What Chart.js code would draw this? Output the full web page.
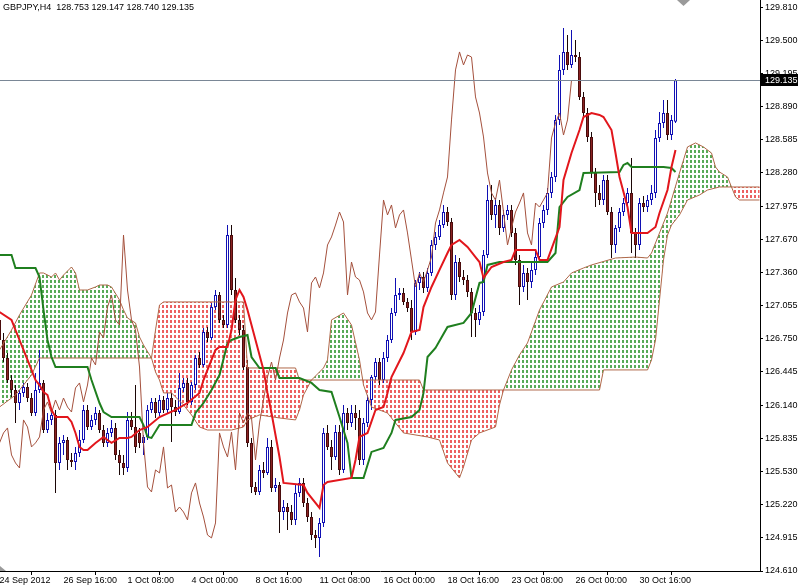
<!DOCTYPE html>
<html><head><meta charset="utf-8">
<script src="https://cdn.jsdelivr.net/npm/chart.js@4.4.0/dist/chart.umd.min.js"></script>
<style>html,body{margin:0;padding:0;background:#fff;overflow:hidden}#wrap{width:798px;height:588px}</style>
</head><body><div id="wrap"><canvas id="c" width="798" height="588"></canvas></div>
<script>
const _ = null;
const symbolTitle = 'GBPJPY,H4';
const xTickBars = [0,16,32,48,64,80,96,112,128,144,160];
const xTickLabels = ['24 Sep 2012','26 Sep 16:00','1 Oct 08:00','4 Oct 00:00','8 Oct 16:00','11 Oct 08:00','16 Oct 00:00','18 Oct 16:00','23 Oct 08:00','26 Oct 00:00','30 Oct 16:00'];
const yTickValues = [129.810,129.500,129.195,128.890,128.585,128.280,127.975,127.670,127.360,127.055,126.750,126.445,126.140,125.835,125.530,125.220,124.915,124.610];

const openP = [
126.925,126.740,126.574,126.371,126.279,126.159,126.252,126.307,126.205,126.067,
126.279,126.344,125.910,126.003,126.049,125.606,125.791,125.818,125.634,125.615,
125.698,125.818,126.095,125.938,126.003,126.067,125.910,125.791,125.883,125.929,
125.680,125.606,125.560,126.003,125.938,125.883,125.791,125.846,126.095,126.169,
126.067,126.187,126.095,126.205,126.122,126.076,126.298,126.344,126.169,126.325,
126.574,126.510,126.814,126.759,127.044,127.155,126.925,126.878,127.708,127.201,
126.925,126.832,126.491,125.791,125.385,125.339,125.542,125.514,125.754,125.376,
125.403,125.154,125.200,125.154,125.081,125.330,125.422,125.237,125.108,124.942,
124.915,125.053,125.883,125.754,125.661,125.892,125.542,126.067,125.975,126.067,
126.021,125.634,125.975,126.187,126.399,126.537,126.371,126.574,126.740,126.989,
127.155,127.174,127.091,127.035,126.814,127.266,127.321,127.220,127.358,127.616,
127.690,127.800,127.920,127.828,127.155,127.459,127.321,127.293,127.183,126.989,
126.925,126.998,127.524,128.031,127.893,127.985,127.773,127.893,127.939,127.727,
127.478,127.229,127.358,127.275,127.386,127.505,127.819,127.939,128.096,128.243,
128.769,129.230,129.396,129.276,129.368,129.349,128.981,128.833,128.612,128.280,
128.096,128.031,128.215,127.920,127.616,127.773,127.920,128.003,128.096,127.727,
127.616,128.003,127.966,128.031,128.096,128.603,128.741,128.833,128.630,128.753];
const highP = [
126.998,126.805,126.620,126.417,126.325,126.279,126.344,126.344,126.252,126.436,
126.648,126.371,126.067,126.095,126.095,125.846,125.864,125.846,125.698,125.754,
125.910,126.141,126.141,126.049,126.122,126.095,125.956,125.929,126.003,125.975,
125.726,125.680,126.076,126.076,126.325,125.929,125.864,126.141,126.205,126.205,
126.233,126.224,126.252,126.252,126.187,126.436,126.390,126.390,126.353,126.602,
126.630,126.851,126.860,127.081,127.201,127.183,126.971,127.800,127.800,127.312,
126.971,126.878,126.556,125.837,125.431,125.588,125.615,125.837,125.818,125.468,
125.431,125.265,125.237,125.219,125.403,125.468,125.468,125.283,125.154,124.988,
125.099,125.929,125.956,125.818,125.956,125.956,126.141,126.113,126.141,126.141,
126.095,126.021,126.233,126.417,126.574,126.574,126.630,126.786,127.035,127.312,
127.220,127.220,127.127,127.109,127.293,127.367,127.367,127.404,127.662,127.736,
127.847,127.985,127.966,127.865,127.524,127.496,127.386,127.339,127.220,127.035,
127.063,127.570,128.169,128.169,128.049,128.031,127.939,127.985,127.985,127.773,
127.524,127.432,127.404,127.459,127.570,127.865,127.985,128.142,128.289,128.815,
129.368,129.617,129.552,129.598,129.506,129.396,129.027,128.879,128.658,128.326,
128.169,128.261,128.261,127.966,127.800,127.957,128.049,128.142,128.418,127.773,
128.049,128.068,128.077,128.169,128.676,128.842,128.953,128.953,128.815,129.147];
const lowP = [
126.694,126.537,126.344,126.215,125.975,126.095,126.215,126.169,126.039,126.039,
126.252,125.883,125.883,125.956,125.330,125.542,125.680,125.542,125.569,125.542,
125.661,125.791,125.910,125.910,125.956,125.883,125.754,125.754,125.846,125.634,
125.495,125.495,125.523,125.910,125.698,125.744,125.680,125.818,126.067,126.021,
126.039,126.067,126.058,125.800,126.039,126.058,126.261,126.141,126.141,126.279,
126.482,126.491,126.722,126.740,127.017,126.897,126.851,126.851,127.155,126.897,
126.786,126.464,125.754,125.330,125.311,125.311,125.468,125.495,125.339,125.339,
124.961,125.081,124.988,125.034,125.034,125.293,125.200,125.062,124.896,124.822,
124.740,125.016,125.726,125.542,125.634,125.495,125.514,125.910,125.938,125.910,
125.588,125.588,125.938,126.095,126.371,126.325,126.344,126.537,126.713,126.961,
127.109,127.063,126.998,126.740,126.786,127.201,127.174,127.183,127.330,127.570,
127.662,127.773,127.791,127.109,127.109,127.275,127.247,127.137,126.768,126.768,
126.878,126.961,127.496,127.847,127.773,127.708,127.736,127.847,127.690,127.432,
127.063,127.183,127.109,127.220,127.339,127.459,127.773,127.893,128.049,128.197,
128.722,129.183,129.230,129.248,129.303,128.953,128.787,128.566,128.234,127.966,
127.985,127.985,127.893,127.496,127.542,127.736,127.883,127.976,127.542,127.496,
127.570,127.920,127.920,127.985,128.049,128.566,128.695,128.584,128.584,128.740];
const closeP = [
126.740,126.574,126.371,126.279,126.159,126.252,126.307,126.205,126.067,126.279,
126.344,125.910,126.003,126.049,125.606,125.791,125.818,125.634,125.615,125.698,
125.818,126.095,125.938,126.003,126.067,125.910,125.791,125.883,125.929,125.680,
125.606,125.560,126.003,125.938,125.754,125.791,125.846,126.095,126.169,126.067,
126.187,126.095,126.205,126.122,126.076,126.298,126.344,126.169,126.325,126.574,
126.510,126.814,126.759,127.044,127.155,126.925,126.878,127.708,127.201,126.925,
126.832,126.491,125.791,125.385,125.339,125.542,125.514,125.754,125.376,125.403,
125.154,125.200,125.154,125.081,125.330,125.422,125.237,125.108,124.942,124.915,
125.053,125.883,125.754,125.661,125.892,125.542,126.067,125.975,126.067,126.021,
125.634,125.975,126.187,126.399,126.537,126.371,126.574,126.740,126.989,127.155,
127.174,127.091,127.035,126.814,127.266,127.321,127.220,127.358,127.616,127.690,
127.800,127.920,127.828,127.155,127.459,127.321,127.293,127.183,126.989,126.925,
126.998,127.524,128.031,127.893,127.985,127.773,127.893,127.939,127.727,127.478,
127.229,127.358,127.275,127.386,127.505,127.819,127.939,128.096,128.243,128.769,
129.230,129.396,129.276,129.368,129.349,128.981,128.833,128.612,128.280,128.096,
128.031,128.215,127.920,127.616,127.773,127.920,128.003,128.096,127.727,127.616,
128.003,127.966,128.031,128.096,128.603,128.741,128.833,128.630,128.769,129.135];

const tenkan = [
126.998,_,_,126.925,126.832,126.740,126.648,126.556,126.464,126.371,
126.325,126.261,126.233,126.095,126.030,_,_,126.030,125.984,125.883,
125.754,125.726,125.726,_,125.791,125.818,125.846,125.818,125.791,_,
125.837,_,125.837,125.846,_,125.910,_,125.938,_,_,
126.030,_,_,_,126.095,_,_,126.159,_,_,
126.252,126.371,126.464,_,126.648,126.676,_,126.676,126.832,127.109,
127.201,127.137,127.017,_,126.740,_,126.464,126.252,126.067,_,
125.661,125.422,_,_,_,_,125.403,125.330,_,_,
125.191,125.403,125.431,_,_,_,_,_,125.468,125.634,
125.846,_,125.883,_,126.095,_,126.122,126.252,126.399,_,
_,126.620,_,126.814,_,126.832,127.044,_,127.229,_,
127.386,_,127.542,127.616,_,127.662,_,127.598,_,127.505,
127.459,127.312,_,127.413,_,_,127.459,_,127.478,127.570,
_,_,_,_,127.570,127.478,_,127.478,_,_,
127.782,128.215,_,128.464,_,128.676,128.796,_,128.833,_,
128.815,128.796,_,128.676,128.464,128.243,_,127.966,127.727,_,
_,_,127.727,_,127.782,127.911,_,128.123,128.335,128.492];

const kijun = [
127.524,_,_,127.524,127.404,_,_,_,_,127.404,
127.321,127.017,126.740,126.583,126.491,_,_,_,_,_,
_,_,126.491,126.371,_,126.159,126.076,_,126.030,_,
_,_,_,_,_,126.030,125.956,125.846,125.837,_,
125.956,_,_,_,_,_,_,_,125.956,126.067,
_,126.159,_,126.279,_,126.417,_,126.713,126.740,_,
126.768,_,126.786,126.583,_,126.482,_,_,_,126.482,
126.390,_,_,_,_,126.390,_,_,126.344,_,
126.279,_,_,126.261,_,126.030,_,125.791,125.468,_,
_,125.468,_,125.708,_,_,125.744,_,125.883,126.003,
_,_,_,126.030,_,126.095,126.252,126.583,_,126.666,
_,_,126.860,_,_,_,126.897,_,126.989,_,
127.266,127.275,127.432,_,_,127.459,_,_,_,_,
_,_,_,_,_,_,_,127.459,_,127.542,
127.966,_,128.059,_,_,128.123,128.280,_,_,_,
_,_,_,_,_,128.289,128.354,128.372,128.335,_,
_,_,_,_,_,_,128.335,_,128.326,128.289];

const spanA = [
126.648,_,_,126.832,_,126.971,_,_,127.155,_,
127.358,127.358,_,127.321,127.358,127.293,127.339,_,127.413,127.358,
127.201,_,127.201,_,127.229,127.247,_,127.247,127.229,_,
127.109,127.017,126.943,_,126.897,126.768,126.694,_,126.574,126.445,
126.371,126.252,_,126.252,126.215,_,126.141,_,126.049,_,
125.938,_,125.910,_,_,_,_,_,125.910,_,
_,125.938,126.003,_,_,126.049,_,_,_,_,
126.021,_,_,_,126.003,126.095,126.233,_,126.371,_,
_,126.482,126.556,126.925,_,_,126.989,_,126.878,_,
126.556,126.325,_,126.122,_,_,_,126.067,_,_,
_,125.883,_,_,_,_,_,125.846,_,_,
125.818,_,125.606,_,_,125.468,125.569,_,125.818,_,
125.883,_,_,_,125.938,126.141,126.279,_,126.464,_,
126.602,_,126.713,_,_,127.017,_,_,127.229,_,
_,127.275,_,127.358,_,_,127.404,_,127.432,_,
_,_,_,_,127.496,_,_,_,_,127.505,
_,_,127.496,127.542,_,127.727,_,127.911,_,_,
128.280,_,128.520,_,128.557,_,128.520,_,128.464,128.335,
128.289,_,128.243,128.151,128.059,128.031,_,_,_,_,
128.031];

const spanB = [
126.122,_,_,_,126.233,_,_,_,126.417,_,
126.574,_,_,_,_,_,_,_,_,_,
_,_,_,_,_,_,_,_,_,_,
_,_,_,_,_,_,_,_,126.574,126.832,
127.063,127.091,_,_,_,_,_,_,_,_,
_,_,_,_,_,_,_,_,_,_,
_,127.091,126.482,_,_,_,_,_,_,_,
_,_,_,_,126.482,126.371,_,_,_,_,
_,_,_,_,_,_,_,_,_,_,
_,_,_,_,_,_,_,_,_,_,
_,_,_,_,_,126.371,126.279,_,_,_,
_,_,_,_,_,_,_,_,_,_,
_,_,_,_,_,_,_,_,_,_,
_,_,_,_,_,_,_,_,_,_,
_,_,_,_,_,_,_,_,_,_,
126.279,126.464,_,_,_,_,_,_,_,_,
_,_,126.464,126.556,126.740,127.109,127.478,127.708,127.800,_,
127.893,_,128.031,_,_,128.077,_,128.123,_,_,
128.151,_,_,_,_,_,_,_,_,_,
128.151];

const N = closeP.length;
const barIdx = spanA.map((v, i) => i);
const chikou = barIdx.map(i => (i + 26 < N ? closeP[i + 26] : null));
const bull = closeP.map((c, i) => c >= openP[i]);
const wickData = lowP.map((l, i) => [l, highP[i]]);
const bodyData = openP.map((o, i) => [o, closeP[i]]);
const lastClose = closeP[N - 1];

const FONT = '"Liberation Sans", Arial, sans-serif';

const cloudPlugin = {
  id: 'cloud',
  beforeDatasetsDraw(chart) {
    const ctx = chart.ctx, ca = chart.chartArea;
    const pa = chart.getDatasetMeta(3).data.filter(p => !p.skip);
    const pb = chart.getDatasetMeta(4).data.filter(p => !p.skip);
    if (!pa.length || !pb.length) return;
    const ys = pa.concat(pb).map(p => p.y);
    const yMin = Math.floor(Math.min(...ys) / 5) * 5 - 5;
    const yMax = Math.max(...ys) + 5;
    const poly = () => {
      ctx.beginPath();
      pa.forEach((p, k) => k ? ctx.lineTo(p.x, p.y) : ctx.moveTo(p.x, p.y));
      for (let k = pb.length - 1; k >= 0; k--) ctx.lineTo(pb[k].x, pb[k].y);
      ctx.closePath();
    };
    ctx.save();
    ctx.beginPath(); ctx.rect(ca.left, ca.top, ca.width, ca.height); ctx.clip();
    [[ca.top - 20, 'rgb(88,170,88)'], [ca.bottom + 20, 'rgb(236,96,96)']].forEach(([edge, color]) => {
      ctx.save();
      ctx.beginPath();
      ctx.moveTo(pb[0].x - 10, edge);
      ctx.lineTo(pb[0].x - 10, pb[0].y);
      pb.forEach(p => ctx.lineTo(p.x, p.y));
      ctx.lineTo(pb[pb.length - 1].x + 10, pb[pb.length - 1].y);
      ctx.lineTo(pb[pb.length - 1].x + 10, edge);
      ctx.closePath();
      ctx.clip();
      poly();
      ctx.clip();
      ctx.fillStyle = color;
      for (let x = 2; x < ca.right; x += 4) {
        for (let y = yMin; y < yMax; y += 5) ctx.fillRect(x, y, 2, 3);
      }
      ctx.restore();
    });
    ctx.restore();
  },
  afterDatasetsDraw(chart) {
    const ctx = chart.ctx, ca = chart.chartArea;
    const y = Math.round(chart.scales.y.getPixelForValue(lastClose)) + 0.5;
    ctx.save();
    ctx.strokeStyle = '#7a8796';
    ctx.lineWidth = 1;
    ctx.beginPath(); ctx.moveTo(ca.left, y); ctx.lineTo(ca.right, y); ctx.stroke();
    ctx.restore();
  },
  afterDraw(chart) {
    const ctx = chart.ctx, ca = chart.chartArea;
    const y = chart.scales.y.getPixelForValue(lastClose);
    ctx.save();
    ctx.fillStyle = '#000';
    ctx.fillRect(ca.right + 1, Math.round(y) - 6, 40, 12);
    ctx.fillStyle = '#fff';
    ctx.font = '9px ' + FONT;
    ctx.textBaseline = 'middle';
    ctx.textAlign = 'left';
    ctx.fillText(lastClose.toFixed(3), ca.right + 5, Math.round(y) + 0.5);
    ctx.fillStyle = '#000';
    const t = symbolTitle + '  ' + [openP[N-1], highP[N-1], lowP[N-1], closeP[N-1]].map(v => v.toFixed(3)).join(' ');
    ctx.fillText(t, 3, 8);
    ctx.fillStyle = '#9a9a9a';
    ctx.beginPath(); ctx.moveTo(677, 0); ctx.lineTo(690, 0); ctx.lineTo(683.5, 6); ctx.closePath(); ctx.fill();
    ctx.beginPath(); ctx.moveTo(0, ca.bottom - 5); ctx.lineTo(6, ca.bottom); ctx.lineTo(0, ca.bottom); ctx.closePath(); ctx.fill();
    ctx.restore();
  }
};

new Chart(document.getElementById('c'), {
  type: 'line',
  data: {
    labels: barIdx,
    datasets: [
      { type: 'line', data: tenkan, borderColor: '#e2161c', borderWidth: 2, pointRadius: 0, spanGaps: true, order: 1 },
      { type: 'line', data: kijun, borderColor: '#1f7f1f', borderWidth: 2, pointRadius: 0, spanGaps: true, order: 2 },
      { type: 'line', data: chikou, borderColor: '#a4503c', borderWidth: 1, pointRadius: 0, spanGaps: false, order: 3 },
      { type: 'line', data: spanA, borderColor: '#b0684a', borderWidth: 1, pointRadius: 0, spanGaps: true, order: 4 },
      { type: 'line', data: spanB, borderColor: '#b0684a', borderWidth: 1, pointRadius: 0, spanGaps: true, order: 4 },
      { type: 'bar', data: bodyData, barThickness: 3, grouped: false, borderSkipped: false, inflateAmount: 0,
        backgroundColor: bull.map(b => b ? '#ffffff' : '#8b2222'),
        borderColor: bull.map(b => b ? '#1010b4' : '#4a0c0c'), borderWidth: 1, order: 6 },
      { type: 'bar', data: wickData, barThickness: 1, grouped: false, borderSkipped: false, inflateAmount: 0,
        backgroundColor: bull.map(b => b ? '#1010b4' : '#1a0606'), borderWidth: 0, order: 7 }
    ]
  },
  options: {
    responsive: false, animation: false, devicePixelRatio: 1,
    layout: { padding: 0 },
    plugins: { legend: { display: false }, tooltip: { enabled: false }, title: { display: false } },
    scales: {
      x: {
        type: 'linear', min: 0.125, max: 190.125, offset: false,
        afterBuildTicks: s => { s.ticks = xTickBars.map(v => ({ value: v })); },
        afterFit: s => { s.height = 17; s.paddingLeft = 0; s.paddingRight = 0; },
        ticks: { autoSkip: false, maxRotation: 0, align: 'start', padding: 0, color: '#000',
                 font: { family: FONT, size: 9 },
                 callback: (v, i) => xTickLabels[i] },
        grid: { drawOnChartArea: false, drawTicks: true, tickLength: 4, color: '#000' },
        border: { display: true, color: '#000', width: 1 }
      },
      y: {
        type: 'linear', position: 'right', min: 124.61, max: 129.875,
        afterBuildTicks: s => { s.ticks = yTickValues.map(v => ({ value: v })); },
        afterFit: s => { s.width = 38; s.paddingTop = 0; s.paddingBottom = 0; },
        ticks: { autoSkip: false, padding: 2, color: '#000', font: { family: FONT, size: 9 },
                 callback: v => Number(v).toFixed(3) },
        grid: { drawOnChartArea: false, drawTicks: true, tickLength: 3, color: '#000' },
        border: { display: true, color: '#000', width: 1 }
      }
    }
  },
  plugins: [cloudPlugin]
});
</script></body></html>
